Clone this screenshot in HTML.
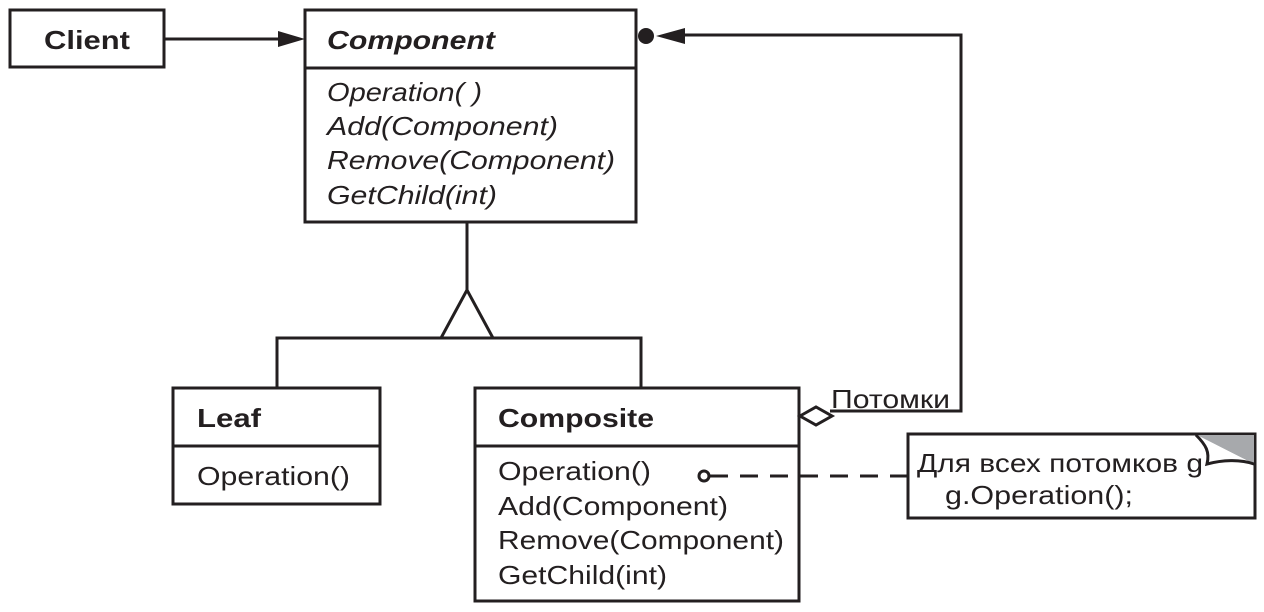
<!DOCTYPE html>
<html><head><meta charset="utf-8"><style>
html,body{margin:0;padding:0;background:#fff;}
svg{display:block;}
text{font-family:"Liberation Sans",sans-serif;font-size:26px;fill:#231f20;}
</style></head><body>
<svg width="1264" height="612" viewBox="0 0 1264 612" xmlns="http://www.w3.org/2000/svg">
<g fill="none" stroke="#231f20" stroke-width="3">
<rect x="10" y="10" width="154" height="57"/>
<rect x="305" y="10" width="331" height="212"/>
<line x1="305" y1="68" x2="636" y2="68"/>
<line x1="164" y1="39" x2="280" y2="39"/>
<polyline points="685,35 961,35 961,411 830,411"/>
<line x1="467" y1="222" x2="467" y2="290"/>
<polygon points="467,290 441,338 493,338"/>
<polyline points="277,388 277,338 641,338 641,388"/>
<rect x="173" y="388" width="207" height="116"/>
<line x1="173" y1="446" x2="380" y2="446"/>
<rect x="475" y="388" width="324" height="213"/>
<line x1="475" y1="446" x2="799" y2="446"/>
<polygon points="800,416 816,407 832,416 816,425" fill="#fff"/>
<line x1="710" y1="476" x2="908" y2="476" stroke-dasharray="18,12"/>
<circle cx="704" cy="476" r="5" fill="#fff"/>
<rect x="908" y="434" width="347" height="84"/>
</g>
<polygon points="305,39 278,31 278,47" fill="#231f20"/>
<circle cx="646" cy="36" r="8" fill="#231f20"/>
<polygon points="656,36 685,28 685,44" fill="#231f20"/>
<polygon points="1197,435 1254,435 1254,464" fill="#a7a9ac"/>
<path d="M1196,435 C1206,445 1210,452 1207,464 C1222,460 1240,459 1254,464" fill="#fff" stroke="#231f20" stroke-width="3"/>
<g lengthAdjust="spacingAndGlyphs">
<text x="44" y="49" font-weight="bold" textLength="86" lengthAdjust="spacingAndGlyphs">Client</text>
<text x="327" y="49" font-weight="bold" font-style="italic" textLength="168" lengthAdjust="spacingAndGlyphs">Component</text>
<text x="327" y="101" font-style="italic" textLength="155" lengthAdjust="spacingAndGlyphs">Operation( )</text>
<text x="327" y="135" font-style="italic" textLength="231" lengthAdjust="spacingAndGlyphs">Add(Component)</text>
<text x="327" y="169" font-style="italic" textLength="288" lengthAdjust="spacingAndGlyphs">Remove(Component)</text>
<text x="327" y="204" font-style="italic" textLength="170" lengthAdjust="spacingAndGlyphs">GetChild(int)</text>
<text x="197" y="427" font-weight="bold" textLength="64" lengthAdjust="spacingAndGlyphs">Leaf</text>
<text x="197" y="485" textLength="153" lengthAdjust="spacingAndGlyphs">Operation()</text>
<text x="498" y="427" font-weight="bold" textLength="156" lengthAdjust="spacingAndGlyphs">Composite</text>
<text x="498" y="480" textLength="153" lengthAdjust="spacingAndGlyphs">Operation()</text>
<text x="498" y="515" textLength="230" lengthAdjust="spacingAndGlyphs">Add(Component)</text>
<text x="498" y="549" textLength="286" lengthAdjust="spacingAndGlyphs">Remove(Component)</text>
<text x="498" y="584" textLength="169" lengthAdjust="spacingAndGlyphs">GetChild(int)</text>
<text x="831" y="408" textLength="119" lengthAdjust="spacingAndGlyphs">Потомки</text>
<text x="917" y="472" textLength="286" lengthAdjust="spacingAndGlyphs">Для всех потомков g</text>
<text x="945" y="504" textLength="188" lengthAdjust="spacingAndGlyphs">g.Operation();</text>
</g>
</svg>
</body></html>
